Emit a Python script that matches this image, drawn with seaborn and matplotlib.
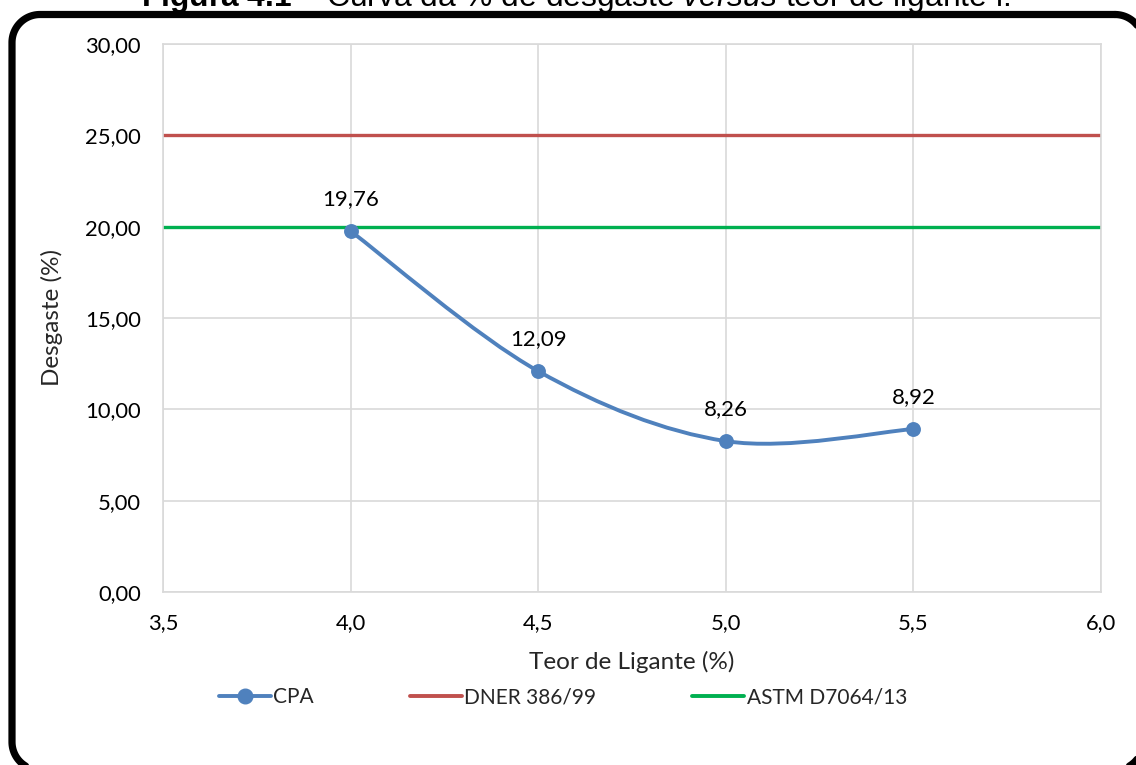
import numpy as np
import matplotlib
matplotlib.use("Agg")
import matplotlib.pyplot as plt
from matplotlib.path import Path
from matplotlib.patches import PathPatch
from matplotlib.lines import Line2D
import seaborn as sns

# Data
teor_ligante = [4.0, 4.5, 5.0, 5.5]
desgaste_cpa = [19.76, 12.09, 8.26, 8.92]
limite_dner = 25.0
limite_astm = 20.0
rotulos = ["19,76", "12,09", "8,26", "8,92"]
x_ticks = [3.5, 4.0, 4.5, 5.0, 5.5, 6.0]
y_ticks = [0, 5, 10, 15, 20, 25, 30]

AZUL = "#4F81BD"
VERMELHO = "#C0504D"
VERDE = "#00B050"
GRADE = "#D9D9D9"

sns.set_theme(style="white")
plt.rcParams["font.family"] = ["Lato", "DejaVu Sans"]
plt.rcParams["mathtext.fontset"] = "custom"
plt.rcParams["mathtext.rm"] = "Liberation Sans"
plt.rcParams["mathtext.bf"] = "Liberation Sans:bold"
plt.rcParams["mathtext.it"] = "Liberation Sans:italic"

W, H = 1136, 765
fig = plt.figure(figsize=(W / 100, H / 100), dpi=100)

# Rounded frame around the chart, in pixel units (origin top-left)
bg = fig.add_axes([0, 0, 1, 1], zorder=0)
bg.set_xlim(0, W)
bg.set_ylim(H, 0)
bg.axis("off")


def rounded_rect(left, top, right, bottom, r, n=30):
    xs, ys = [], []
    corners = [
        (right - r, top + r, -90, 0),
        (right - r, bottom - r, 0, 90),
        (left + r, bottom - r, 90, 180),
        (left + r, top + r, 180, 270),
    ]
    for cx, cy, a0, a1 in corners:
        t = np.radians(np.linspace(a0, a1, n))
        xs.extend(cx + r * np.cos(t))
        ys.extend(cy + r * np.sin(t))
    xs.append(xs[0])
    ys.append(ys[0])
    return xs, ys


fx, fy = rounded_rect(12, 14.5, 1143, 770, 28)
bg.plot(fx, fy, color="black", lw=5.2, solid_joinstyle="round", clip_on=False)

# Caption (partly above the page edge)
fig.text(576 / W, 1 - 6 / H,
         r"$\bf{Figura\ 4.1}$ – Curva da % de desgaste $\it{versus}$ teor de ligante i.",
         ha="center", va="baseline", fontsize=22.9, family="Liberation Sans",
         color="black")

# Plot area
x0, x1 = 163, 1101
y0, y1 = 44, 592
ax = fig.add_axes([x0 / W, 1 - y1 / H, (x1 - x0) / W, (y1 - y0) / H], zorder=1)
ax.set_facecolor("none")

# Smoothed line through the points (Catmull-Rom style Bezier segments)
pts = np.column_stack([teor_ligante, desgaste_cpa])
ext = np.vstack([pts[0], pts, pts[-1]])
verts = [tuple(pts[0])]
codes = [Path.MOVETO]
for i in range(len(pts) - 1):
    p_prev, p0, p1, p_next = ext[i], ext[i + 1], ext[i + 2], ext[i + 3]
    c1 = p0 + (p1 - p_prev) / 6.0
    c2 = p1 - (p_next - p0) / 6.0
    verts += [tuple(c1), tuple(c2), tuple(p1)]
    codes += [Path.CURVE4] * 3
ax.add_patch(PathPatch(Path(verts, codes), fill=False, ec=AZUL, lw=2.8,
                       capstyle="round", joinstyle="round", zorder=3))

ax.axhline(limite_dner, color=VERMELHO, lw=2.4, zorder=2)
ax.axhline(limite_astm, color=VERDE, lw=2.4, zorder=2)

sns.scatterplot(x=teor_ligante, y=desgaste_cpa, ax=ax, color=AZUL, s=115,
                edgecolor=AZUL, linewidth=0, zorder=4, legend=False)

for xv, yv, lab in zip(teor_ligante, desgaste_cpa, rotulos):
    ax.annotate(lab, (xv, yv), xytext=(0, 16), textcoords="offset points",
                ha="center", va="bottom", fontsize=16, color="black")

ax.set_xlim(3.5, 6.0)
ax.set_ylim(0, 30)
ax.set_xticks(x_ticks)
ax.set_xticklabels([f"{v:.1f}".replace(".", ",") for v in x_ticks])
ax.set_yticks(y_ticks)
ax.set_yticklabels([f"{v:.2f}".replace(".", ",") for v in y_ticks])
ax.grid(True, color=GRADE, lw=1.2)
ax.set_axisbelow(True)
for s in ax.spines.values():
    s.set_color(GRADE)
    s.set_linewidth(1.2)
ax.tick_params(axis="both", length=0, labelsize=15.8, colors="black")
ax.tick_params(axis="x", pad=15)
ax.tick_params(axis="y", pad=16)
ax.set_xlabel("Teor de Ligante (%)", fontsize=17.5, labelpad=13)
ax.set_ylabel("Desgaste (%)", fontsize=17.5, labelpad=16)

handles = [
    Line2D([], [], color=AZUL, lw=2.8, marker="o", markersize=10.5),
    Line2D([], [], color=VERMELHO, lw=2.8),
    Line2D([], [], color=VERDE, lw=2.8),
]
fig.legend(handles, ["CPA", "DNER 386/99", "ASTM D7064/13"], ncol=3,
           loc="center", bbox_to_anchor=(563 / W, 1 - 697 / H), frameon=False,
           fontsize=15, handlelength=2.5, handletextpad=0.12,
           columnspacing=4.6)

fig.savefig("out.png", dpi=100)
